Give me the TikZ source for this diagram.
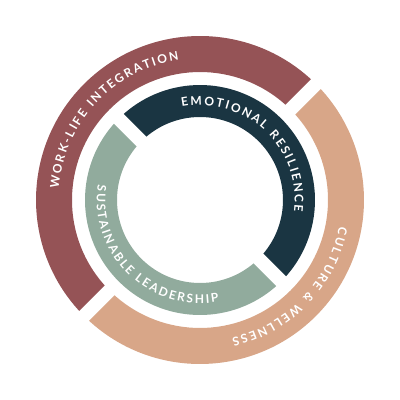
\documentclass[tikz,border=0pt]{standalone}
\usepackage{fontspec}
\newfontfamily\arcfont{Lato}
\usetikzlibrary{decorations.text}
\definecolor{wred}{HTML}{955356}
\definecolor{wpeach}{HTML}{D8A688}
\definecolor{wteal}{HTML}{1A3542}
\definecolor{wsage}{HTML}{91AB9D}
\newcommand\gapw{7}
% colour, start angle, end angle, outer radius, inner radius
\newcommand\ringseg[5]{%
  \fill[#1] ({#2+asin(\gapw/#4)}:#4pt)
    arc[start angle={#2+asin(\gapw/#4)}, end angle={#3-asin(\gapw/#4)}, radius=#4pt]
    -- ({#3-asin(\gapw/#5)}:#5pt)
    arc[start angle={#3-asin(\gapw/#5)}, end angle={#2+asin(\gapw/#5)}, radius=#5pt]
    -- cycle;}
\tikzset{
  labelfont/.style={font=\arcfont\bfseries\fontsize{12}{14}\selectfont},
  arctext/.style={labelfont, decorate, decoration={text effects along path,
    text={#1}, text align=center,
    text effects/.cd, text along path,
    characters={text=white, labelfont, inner xsep=1pt, inner ysep=0pt},
    character widths={inner xsep=1pt, inner ysep=0pt, labelfont}}}
}
\begin{document}
\begin{tikzpicture}
\useasboundingbox (-200pt,-200pt) rectangle (200pt,200pt);
% outer ring
\ringseg{wred}{45}{225}{164}{128}
\ringseg{wpeach}{-135}{45}{164}{128}
% inner ring
\ringseg{wteal}{-45}{135}{115}{83}
\ringseg{wsage}{135}{315}{115}{83}
% labels
\path[arctext={WORK-LIFE INTEGRATION}] (197:141.7pt) arc[start angle=197, end angle=77, radius=141.7pt];
\path[arctext={CULTURE {\&} WELLNESS}] (16:141.7pt) arc[start angle=16, end angle=-104, radius=141.7pt];
\path[arctext={EMOTIONAL RESILIENCE}] (112:94.7pt) arc[start angle=112, end angle=-18, radius=94.7pt];
\path[arctext={SUSTAINABLE LEADERSHIP}] (161:103.3pt) arc[start angle=161, end angle=291, radius=103.3pt];
\end{tikzpicture}
\end{document}
